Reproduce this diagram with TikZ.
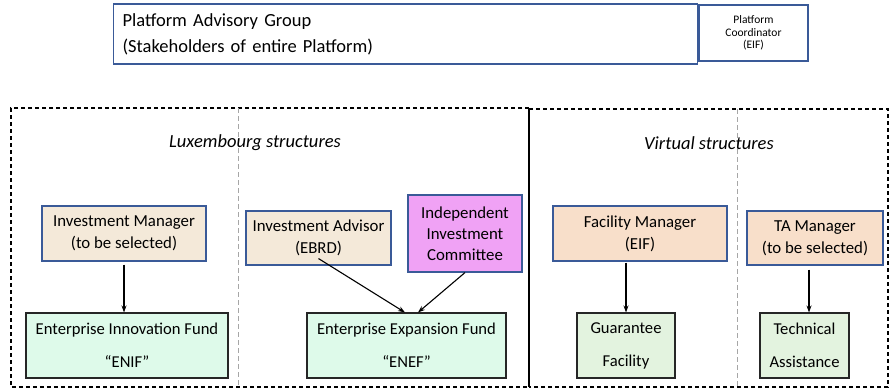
\documentclass[tikz,border=0pt]{standalone}
\usepackage{fontspec}
\setmainfont{Carlito}
\usetikzlibrary{arrows.meta}
\definecolor{bordblue}{HTML}{3A5A98}
\definecolor{beige}{HTML}{F4E9D9}
\definecolor{peach}{HTML}{F8DFCA}
\definecolor{violet}{HTML}{F0A2F5}
\definecolor{mint}{HTML}{DEFAEA}
\definecolor{sage}{HTML}{E3F3DF}
\tikzset{
  topbox/.style={draw=bordblue, line width=1.2pt, inner sep=0pt, align=center},
  mgr/.style={draw=bordblue, line width=1.1pt, inner sep=0pt, align=center, font=\fontsize{16.8}{22}\selectfont},
  fund/.style={draw=black!85, line width=1.1pt, inner sep=0pt, align=center, font=\fontsize{16.6}{33}\selectfont},
  arr/.style={-{Stealth[length=7pt,width=5pt]}, line width=1.1pt},
  region/.style={dash pattern=on 4pt off 3pt, line width=1.5pt},
  divider/.style={draw=black!35, dash pattern=on 5pt off 3pt, line width=1pt},
  heading/.style={font=\fontsize{18.5}{20}\selectfont\itshape}
}
\begin{document}
\begin{tikzpicture}[x=1pt,y=-1pt]
\useasboundingbox (0,0) rectangle (891,391);
% regions
\draw[region] (529,108) -- (11,108) -- (11,387) -- (529,387);
\draw[region] (529,109) -- (888,109) -- (888,387) -- (529,387);
\draw[line width=1.5pt] (529,108) -- (529,387);
\draw[divider] (238,108) -- (238,387);
\draw[divider] (737,109) -- (737,387);
\node[heading] (lux) at (255,143) {Luxembourg structures};
\node[heading] (virt) at (709,143) {Virtual structures};
% top
\node[topbox, anchor=west, text width=566pt, inner xsep=9pt, minimum height=60pt, align=left,
      font=\fontsize{18.5}{26}\selectfont] (pag) at (113,34) {Platform Advisory Group\\(Stakeholders of entire Platform)};
\node[topbox, minimum width=109pt, minimum height=56pt, font=\fontsize{11.5}{12.5}\selectfont] (pc) at (753.5,33) {Platform\\Coordinator\\(EIF)};
% managers
\node[mgr, fill=beige, minimum width=164pt, minimum height=55pt] (im) at (124,233.5) {Investment Manager\\(to be selected)};
\node[mgr, fill=beige, minimum width=145pt, minimum height=54pt] (ia) at (318.5,238) {Investment Advisor\\(EBRD)};
\node[mgr, fill=violet, minimum width=114pt, minimum height=77pt, font=\fontsize{16.8}{21}\selectfont] (iic) at (465,233.5) {Independent\\Investment\\Committee};
\node[mgr, fill=peach, minimum width=174pt, minimum height=55pt] (fm) at (640,233.5) {Facility Manager\\(EIF)};
\node[mgr, fill=peach, minimum width=136pt, minimum height=54pt] (ta) at (815,238) {TA Manager\\(to be selected)};
% funds
\node[fund, fill=mint, minimum width=202pt, minimum height=65pt] (enif) at (127,345.5) {Enterprise Innovation Fund\\“ENIF”};
\node[fund, fill=mint, minimum width=199pt, minimum height=65pt] (enef) at (406.5,345.5) {Enterprise Expansion Fund\\“ENEF”};
\node[fund, fill=sage, minimum width=98pt, minimum height=65pt] (gf) at (626,345.5) {Guarantee\\Facility};
\node[fund, fill=sage, minimum width=89pt, minimum height=65pt] (tas) at (804.5,345.5) {Technical\\Assistance};
% arrows
\draw[arr, shorten <=3pt] (im.south) -- (im.south |- enif.north);
\draw[arr] ([yshift=7pt]ia.south) -- ([xshift=-1.5pt]enef.north);
\draw[arr] (iic.south) -- ([xshift=11.5pt]enef.north);
\coordinate (gftop) at (gf.north);
\draw[arr, shorten <=1pt] (gftop |- fm.south) -- (gftop);
\coordinate (tastop) at ([xshift=4.5pt]tas.north);
\draw[arr, shorten <=4pt] (tastop |- ta.south) -- (tastop);
\end{tikzpicture}
\end{document}
